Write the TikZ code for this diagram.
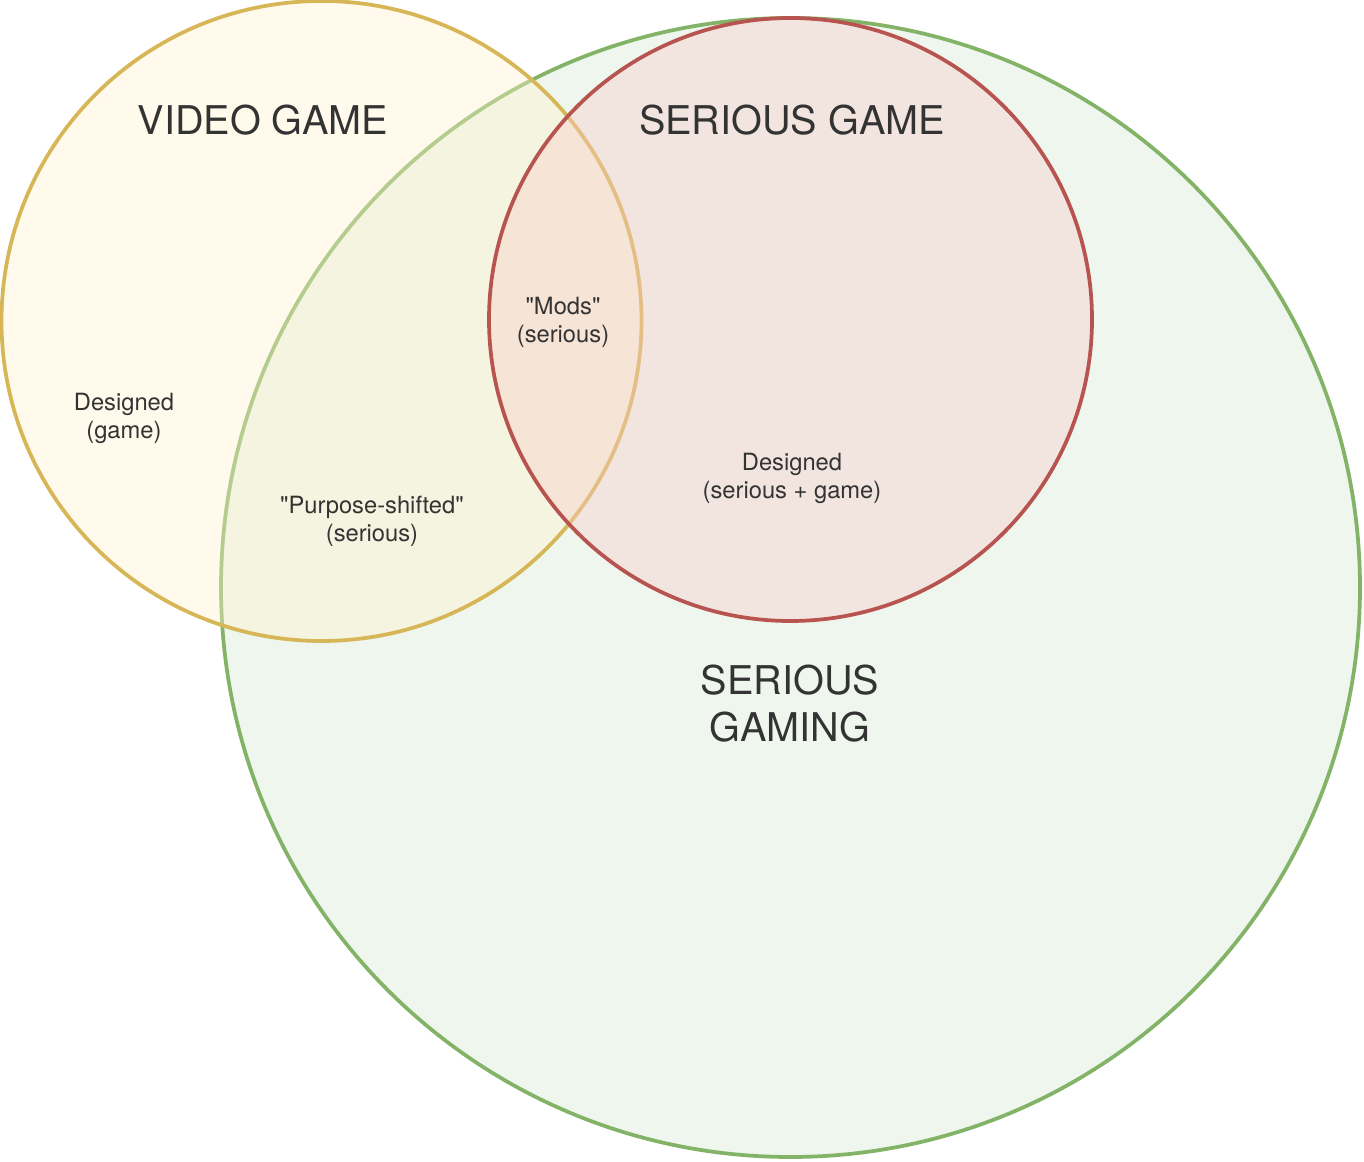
\documentclass[tikz,border=0pt]{standalone}
\usepackage{fontspec}
\setmainfont{TeX Gyre Heros}
\usepackage{xcolor}
\usepackage{tikz}

\definecolor{verdeF}{HTML}{D5E8D4}
\definecolor{verdeB}{HTML}{82B366}
\definecolor{gialloF}{HTML}{FFF2CC}
\definecolor{gialloB}{HTML}{D6B656}
\definecolor{rossoF}{HTML}{F8CECC}
\definecolor{rossoB}{HTML}{B85450}
\definecolor{testo}{HTML}{333333}

\begin{document}
\begin{tikzpicture}[x=0.75pt, y=-0.75pt,
        insieme/.style={line width=2.8pt, fill opacity=0.4},
        titolo/.style={text=testo, align=center, font=\fontsize{29.7}{35}\selectfont},
        voce/.style={text=testo, align=center, font=\fontsize{17.8}{21}\selectfont}]
        \useasboundingbox (0,0) rectangle (1364,1162);

        % Cerchi (verde sotto, poi giallo, poi rosso)
        \draw[insieme, draw=verdeB, fill=verdeF] (790.5,587.5) circle [radius=569.5];
        \draw[insieme, draw=gialloB, fill=gialloF] (321.5,321) circle [radius=320];
        \draw[insieme, draw=rossoB, fill=rossoF] (790.5,319.5) circle [radius=301.5];

        % Titoli
        \node[titolo] (videogame) at (263,120) {VIDEO GAME};
        \node[titolo] (seriousgame) at (792,120) {SERIOUS GAME};
        \node[titolo] (seriousgaming) at (790,703.5) {SERIOUS\\GAMING};

        % Etichette delle regioni
        \node[voce] (designedgame) at (124,418) {Designed\\(game)};
        \node[voce] (purpose) at (372,521) {\textquotedbl Purpose-shifted\textquotedbl\\(serious)};
        \node[voce] (mods) at (563,322) {\textquotedbl Mods\textquotedbl\\(serious)};
        \node[voce] (designedserious) at (792,478) {Designed\\(serious + game)};
    \end{tikzpicture}
\end{document}
